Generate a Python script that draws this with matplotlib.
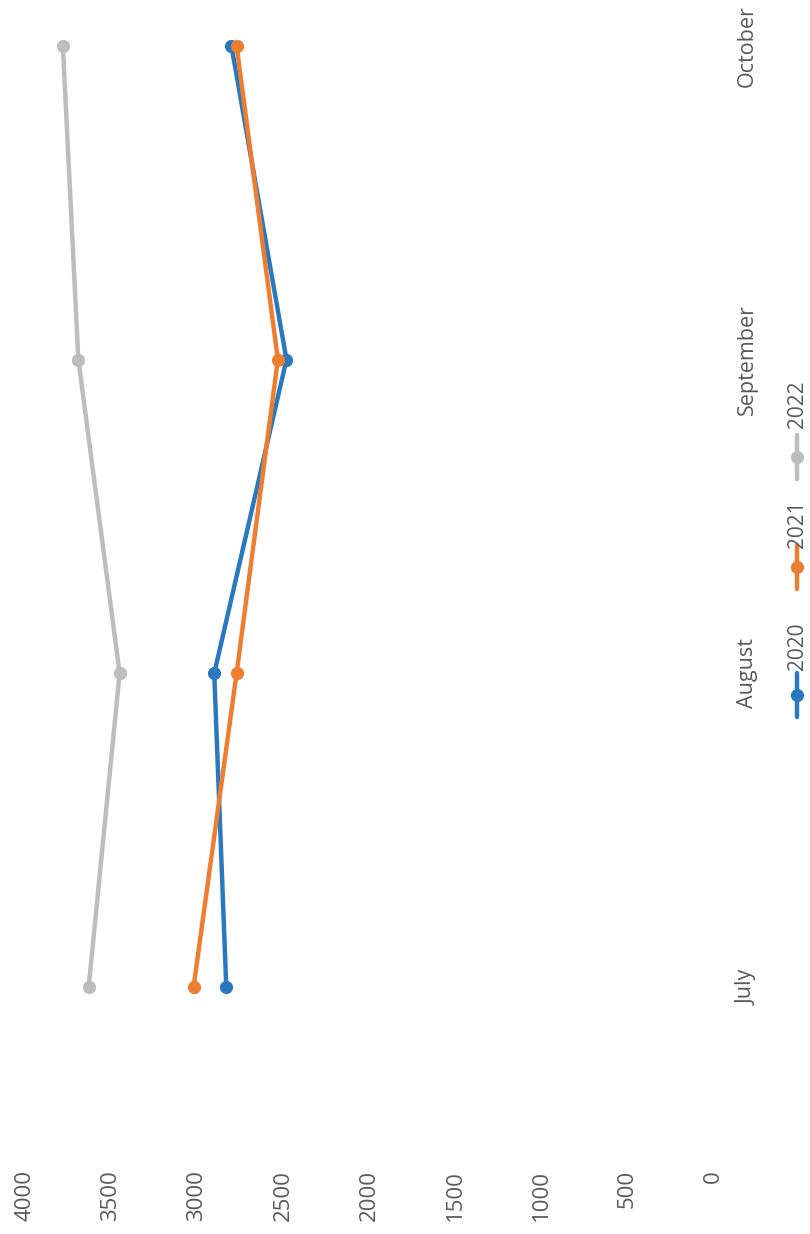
import matplotlib
matplotlib.use("Agg")
import matplotlib.pyplot as plt
from matplotlib.lines import Line2D

# chart data (page was scanned sideways: values run right-to-left, months bottom-to-top)
months = ["July", "August", "September", "October"]
years = ["2020", "2021", "2022"]
vals_2020 = [2830, 2900, 2480, 2800]
vals_2021 = [3020, 2770, 2530, 2770]
vals_2022 = [3630, 3450, 3690, 3780]
value_ticks = [0, 500, 1000, 1500, 2000, 2500, 3000, 3500, 4000]

colors = {"2020": "#2A79BE", "2021": "#ED7D31", "2022": "#BDBDBD"}
series = {"2020": vals_2020, "2021": vals_2021, "2022": vals_2022}
txt_col = "#595959"

plt.rcParams["font.family"] = ["Open Sans", "DejaVu Sans"]

fig = plt.figure(figsize=(8.1, 12.34), dpi=100)
ax = fig.add_axes([0.0309, 0.0731, 0.8494, 0.9151])

pos = list(range(len(months)))
for yr in years:
    ax.plot(series[yr], pos, "-o", color=colors[yr], lw=3.2, ms=8.5,
            solid_capstyle="round", zorder=3)

ax.set_xlim(4000, 0)
ax.set_ylim(-0.5, 3.1)

ax.set_xticks(value_ticks)
ax.set_xticklabels([str(v) for v in value_ticks], rotation=90, ha="center", va="top",
                   fontsize=16, color=txt_col)
ax.tick_params(axis="x", length=0, pad=18.7)

ax.yaxis.tick_right()
ax.set_yticks(pos)
ax.set_yticklabels(months, rotation=90, ha="center", va="center", fontsize=15.5, color=txt_col)
ax.tick_params(axis="y", length=0, pad=24.5)

for s in ax.spines.values():
    s.set_visible(False)

# legend, drawn by hand since it is turned sideways too
H = 1234.0
leg_x = 797 / 810.0
leg_marker_px = {"2020": 695, "2021": 567, "2022": 457}
leg_text_px = {"2020": 646, "2021": 524, "2022": 404}
for yr in years:
    ym = 1 - leg_marker_px[yr] / H
    fig.add_artist(Line2D([leg_x, leg_x], [ym - 22 / H, ym + 22 / H], color=colors[yr],
                          lw=3.2, solid_capstyle="round", transform=fig.transFigure))
    fig.add_artist(Line2D([leg_x], [ym], marker="o", ms=8.5, color=colors[yr],
                          transform=fig.transFigure))
    fig.text(leg_x, 1 - leg_text_px[yr] / H, yr, rotation=90, ha="center", va="center",
             fontsize=15, color=txt_col)

fig.savefig("out.png", dpi=100)
